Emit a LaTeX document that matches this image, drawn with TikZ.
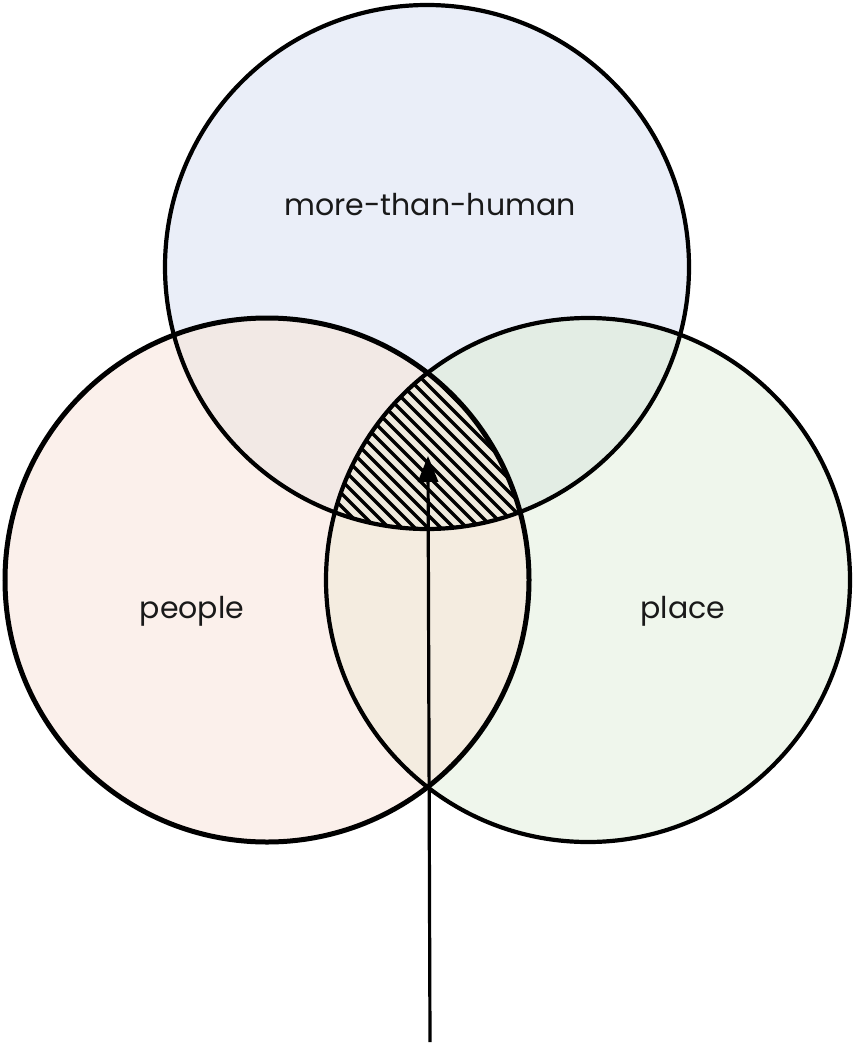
\documentclass[tikz,border=0pt]{standalone}
\usepackage{fontspec}
\setmainfont{Poppins}
\usetikzlibrary{arrows.meta}
\begin{document}
\begin{tikzpicture}[x=1pt,y=-1pt,
  ring/.style={draw=black,line width=4.2pt},
  lbl/.style={font=\fontsize{30}{34}\selectfont,text=black!90},
  hatchline/.style={line width=3.3pt,black}]
\definecolor{ctop}{HTML}{EAEEF8}
\definecolor{cleft}{HTML}{FBF0EB}
\definecolor{cright}{HTML}{EFF6EC}
\definecolor{ctl}{HTML}{F2E9E5}
\definecolor{ctr}{HTML}{E3EDE4}
\definecolor{clr}{HTML}{F4ECE0}
\definecolor{call}{HTML}{EFEADD}
\useasboundingbox (0,0) rectangle (857,1044);
\coordinate (T) at (427,267);
\coordinate (L) at (267,580);
\coordinate (R) at (588,580);
\def\rad{262}
% base fills
\fill[ctop] (T) circle (\rad);
\fill[cleft] (L) circle (\rad);
\fill[cright] (R) circle (\rad);
% pairwise overlaps
\begin{scope}\clip (T) circle (\rad); \fill[ctl] (L) circle (\rad); \end{scope}
\begin{scope}\clip (T) circle (\rad); \fill[ctr] (R) circle (\rad); \end{scope}
\begin{scope}\clip (L) circle (\rad); \fill[clr] (R) circle (\rad); \end{scope}
% triple overlap with hatching
\begin{scope}
  \clip (T) circle (\rad);
  \clip (L) circle (\rad);
  \clip (R) circle (\rad);
  \fill[call] (300,340) rectangle (560,560);
  \foreach \i in {-30,...,30} {
    \draw[hatchline] ({428+13*\i-250},{450-250}) -- ({428+13*\i+250},{450+250});
  }
\end{scope}
% outlines
\draw[ring] (T) circle (\rad);
\draw[ring] (R) circle (\rad);
\draw[ring,line width=5pt] (L) circle (\rad);
% labels
\node[lbl] (tmh) at (430,205) {more-than-human};
\node[lbl] (tpe) at (192,611) {people};
\node[lbl] (tpl) at (683,611) {place};
% arrow
\coordinate (a0) at (430,1042);
\coordinate (a1) at (428,456);
\draw[line width=3.2pt,-{Triangle[length=26pt,width=20pt]}] (a0) -- (a1);
\end{tikzpicture}
\end{document}
